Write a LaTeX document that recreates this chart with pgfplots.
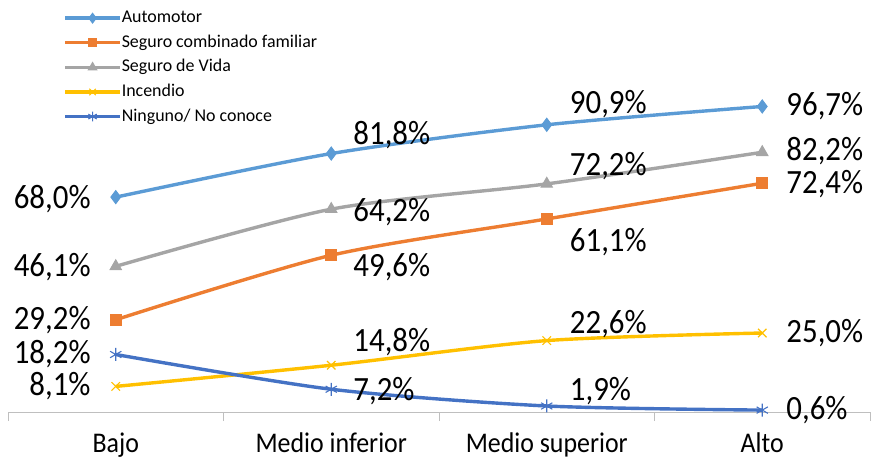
\documentclass[border=0pt]{standalone}
\usepackage{pgfplots}
\usepackage{pgfplotstable}
\usepackage{graphicx}
\pgfplotsset{compat=1.18}
\usepackage{fontspec}
\setmainfont{Carlito}
\definecolor{cAuto}{HTML}{5B9BD5}
\definecolor{cSeg}{HTML}{ED7D31}
\definecolor{cVida}{HTML}{A5A5A5}
\definecolor{cInc}{HTML}{FFC000}
\definecolor{cNin}{HTML}{4472C4}
\definecolor{cAxis}{HTML}{BFBFBF}
\newcommand{\vs}[1]{\scalebox{1}[1.1]{#1}}

% x y dx dy
\pgfplotstableread{
x y dx dy
0 68.0 -25 -2
1 81.8 22 18
2 90.9 23 21
3 96.7 24 0
}\tAuto
\pgfplotstableread{
x y dx dy
0 29.2 -25 0
1 49.6 22 -12
2 61.1 23 -23
3 72.4 24 -1
}\tSeg
\pgfplotstableread{
x y dx dy
0 46.1 -25 -1
1 64.2 22 -3
2 72.2 23 18
3 82.2 24 1
}\tVida
\pgfplotstableread{
x y dx dy
0 8.1 -25 0
1 14.8 22 23
2 22.6 23 17
3 25.0 24 0
}\tInc
\pgfplotstableread{
x y dx dy
0 18.2 -25 0
1 7.2 22 -2
2 1.9 23 15
3 0.6 24 0
}\tNin

\pgfplotsset{
  lbl/.style={forget plot, draw=none, mark=none,
    point meta=explicit,
    nodes near coords={\vs{\pgfmathprintnumber[fixed, fixed zerofill, precision=1, use comma]{\pgfplotspointmeta}\%}},
    visualization depends on={\thisrow{dx}\as\dx},
    visualization depends on={\thisrow{dy}\as\dy},
    nodes near coords style={font=\fontsize{31}{31}\selectfont, text=black, inner sep=0pt,
      anchor={\ifdim\dx pt<0pt east\else west\fi}, xshift=\dx bp, yshift=\dy bp},
  }
}

\begin{document}
\begin{tikzpicture}
\begin{axis}[
  at={(8bp,47bp)}, anchor=south west,
  scale only axis, width=862bp, height=412bp,
  xmin=-0.5, xmax=3.5, ymin=0, ymax=130.4,
  clip=false,
  axis y line=none,
  axis x line*=bottom,
  x axis line style={draw=cAxis, line width=1bp},
  xtick={0,1,2,3},
  xticklabels={\vs{Bajo},\vs{Medio inferior},\vs{Medio superior},\vs{Alto}},
  major tick length=0pt,
  minor xtick={-0.5,0.5,1.5,2.5,3.5},
  minor tick length=9bp,
  tick align=outside,
  minor tick style={draw=cAxis, line width=1bp},
  xticklabel style={font=\fontsize{26}{26}\selectfont, anchor=base, yshift=-40bp, inner sep=0pt},
  /pgf/number format/assume math mode=true,
  legend image code/.code={\draw[mark repeat=2, mark phase=2, #1, every mark/.append style={scale=0.75}] plot coordinates {(0bp,0bp) (27.5bp,0bp) (55bp,0bp)};},
  legend cell align=left,
  legend style={draw=none, fill=none, at={(rel axis cs:0.064,0.977)}, anchor=north west,
    font=\fontsize{18}{18}\selectfont, row sep=7.6bp, inner sep=0pt,
    nodes={inner sep=0pt, text height=13bp, text depth=4bp},
    /tikz/every even column/.append style={column sep=5bp}},
]
\addplot[color=cAuto, line width=3.4bp, smooth, tension=0.45, mark=diamond*, mark size=6.5bp, mark options={fill=cAuto, line width=1bp}] table[x=x, y=y] {\tAuto};
\addlegendentry{Automotor}
\addplot[color=cSeg, line width=3.4bp, smooth, tension=0.45, mark=square*, mark size=5.5bp, mark options={fill=cSeg, line width=1bp}] table[x=x, y=y] {\tSeg};
\addlegendentry{Seguro combinado familiar}
\addplot[color=cVida, line width=3.4bp, smooth, tension=0.45, mark=triangle*, mark size=6.5bp, mark options={fill=cVida, line width=1bp}] table[x=x, y=y] {\tVida};
\addlegendentry{Seguro de Vida}
\addplot[color=cInc, line width=3.4bp, smooth, tension=0.45, mark=x, mark size=6bp, mark options={line width=1.1bp}] table[x=x, y=y] {\tInc};
\addlegendentry{Incendio}
\addplot[color=cNin, line width=3.4bp, smooth, tension=0.45, mark=asterisk, mark size=6.5bp, mark options={line width=1.1bp}] table[x=x, y=y] {\tNin};
\addlegendentry{Ninguno/ No conoce}
\addplot[lbl] table[x=x, y=y, meta=y] {\tAuto};
\addplot[lbl] table[x=x, y=y, meta=y] {\tSeg};
\addplot[lbl] table[x=x, y=y, meta=y] {\tVida};
\addplot[lbl] table[x=x, y=y, meta=y] {\tInc};
\addplot[lbl] table[x=x, y=y, meta=y] {\tNin};
\end{axis}
\pgfresetboundingbox
\path[use as bounding box] (0,0) rectangle (873bp,459bp);
\end{tikzpicture}
\end{document}
